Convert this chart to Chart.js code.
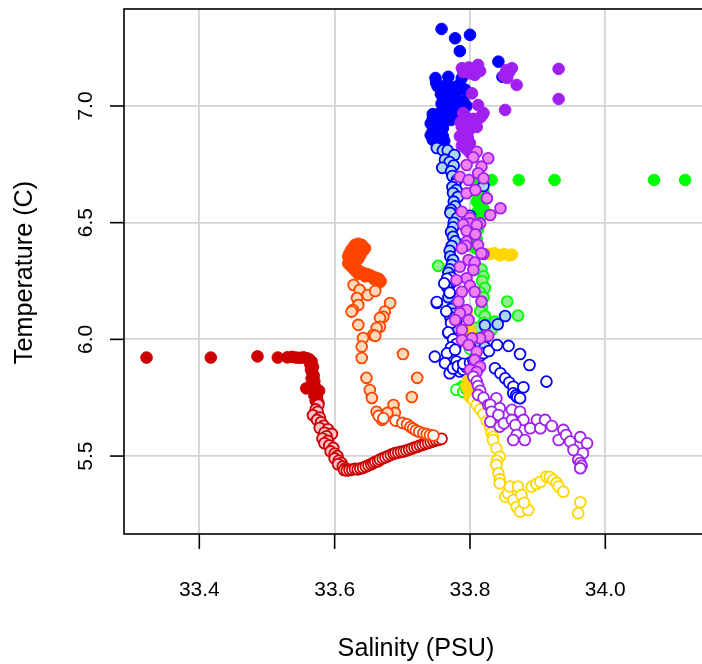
<!DOCTYPE html>
<html>
<head>
<meta charset="utf-8">
<script src="https://cdn.jsdelivr.net/npm/chart.js@4/dist/chart.umd.min.js"></script>
<style>
  html, body { margin: 0; padding: 0; background: #ffffff; overflow: hidden; }
  #wrap { width: 702px; height: 664px; position: relative; }
</style>
</head>
<body>
<div id="wrap"><canvas id="ts" width="702" height="664"></canvas></div>
<script>
// Temperature–salinity profiles, [salinity PSU, temperature C]
// Each cast: surface layer (filled), middle layer (pale fill), deep layer (open).

const xTicks = [33.4, 33.6, 33.8, 34.0];
const yTicks = [5.5, 6.0, 6.5, 7.0];
const xRange = [33.2887, 34.1429];
const yRange = [5.166, 7.4156];

const redSurface = [[33.322,5.922],[33.417,5.922],[33.486,5.927],[33.516,5.922],[33.53,5.923],[33.537,5.925],[33.543,5.922],[33.549,5.921],[33.554,5.923],[33.559,5.919],[33.563,5.914],[33.566,5.905],[33.564,5.893],[33.568,5.882],[33.565,5.87],[33.567,5.857],[33.569,5.845],[33.566,5.832],[33.57,5.82],[33.567,5.808],[33.571,5.796],[33.558,5.79],[33.568,5.784],[33.577,5.78],[33.572,5.772],[33.57,5.76],[33.574,5.748],[33.572,5.737],[33.576,5.728]];
const redMid = [[33.576,5.72],[33.572,5.70],[33.575,5.69],[33.568,5.675],[33.578,5.665],[33.574,5.655],[33.58,5.645],[33.584,5.63],[33.578,5.62],[33.59,5.615],[33.585,5.60],[33.596,5.595],[33.588,5.585],[33.582,5.575],[33.59,5.565],[33.585,5.555],[33.592,5.545],[33.598,5.535],[33.594,5.52],[33.6,5.51],[33.604,5.50],[33.6,5.49],[33.606,5.48],[33.61,5.47],[33.605,5.465],[33.612,5.455],[33.616,5.448],[33.62,5.44],[33.614,5.44]];
const redDeep = [[33.618,5.438],[33.622,5.44],[33.626,5.442],[33.63,5.445],[33.634,5.443],[33.638,5.447],[33.642,5.45],[33.646,5.455],[33.65,5.46],[33.654,5.465],[33.657,5.47],[33.66,5.475],[33.664,5.478],[33.667,5.485],[33.671,5.49],[33.675,5.495],[33.679,5.5],[33.683,5.505],[33.687,5.51],[33.69,5.513],[33.694,5.515],[33.698,5.518],[33.702,5.52],[33.706,5.524],[33.71,5.528],[33.714,5.532],[33.718,5.536],[33.722,5.54],[33.726,5.545],[33.73,5.548],[33.734,5.552],[33.738,5.556],[33.742,5.56],[33.746,5.564],[33.75,5.567],[33.754,5.57],[33.758,5.574]];

const orangeSurface = [[33.63,6.405],[33.635,6.41],[33.64,6.405],[33.628,6.395],[33.638,6.395],[33.645,6.39],[33.625,6.385],[33.632,6.38],[33.642,6.38],[33.622,6.37],[33.63,6.365],[33.638,6.36],[33.62,6.355],[33.627,6.35],[33.635,6.345],[33.622,6.34],[33.63,6.335],[33.62,6.325],[33.628,6.32],[33.625,6.31],[33.632,6.305],[33.63,6.295],[33.638,6.29],[33.635,6.28],[33.642,6.285],[33.648,6.28],[33.645,6.27],[33.652,6.275],[33.655,6.27],[33.66,6.265],[33.658,6.258],[33.665,6.26],[33.668,6.25],[33.662,6.255],[33.667,6.245]];
const orangeMid = [[33.628,6.233],[33.637,6.212],[33.649,6.19],[33.66,6.207],[33.633,6.177],[33.635,6.147],[33.627,6.126],[33.625,6.119],[33.682,6.156],[33.674,6.119],[33.672,6.097],[33.667,6.092],[33.667,6.054],[33.662,6.049],[33.657,6.019],[33.66,6.015],[33.635,6.062],[33.642,6.006],[33.64,5.969],[33.64,5.92],[33.647,5.835],[33.652,5.783],[33.655,5.749],[33.701,5.937],[33.722,5.835],[33.714,5.753],[33.687,5.719],[33.689,5.685],[33.678,5.685],[33.662,5.69],[33.67,5.655]];
const orangeDeep = [[33.665,5.672],[33.672,5.662],[33.69,5.652],[33.7,5.642],[33.707,5.636],[33.712,5.625],[33.716,5.618],[33.72,5.61],[33.725,5.604],[33.731,5.598],[33.736,5.594],[33.741,5.59],[33.746,5.588]];

const greenSurface = [[33.832,6.683],[33.872,6.683],[33.925,6.683],[34.072,6.683],[34.118,6.683],[33.81,6.67],[33.815,6.655],[33.808,6.64],[33.82,6.63],[33.812,6.62],[33.818,6.6],[33.81,6.59],[33.815,6.575],[33.82,6.56],[33.812,6.55],[33.808,6.535],[33.815,6.52],[33.81,6.505],[33.805,6.49],[33.812,6.47],[33.808,6.45],[33.81,6.43],[33.805,6.41],[33.808,6.39]];
const greenMid = [[33.753,6.315],[33.817,6.3],[33.82,6.27],[33.818,6.25],[33.822,6.22],[33.815,6.2],[33.78,6.18],[33.82,6.18],[33.855,6.162],[33.818,6.14],[33.815,6.12],[33.871,6.102],[33.822,6.1],[33.837,6.076],[33.82,6.07],[33.81,6.05],[33.832,6.04],[33.825,6.02],[33.815,6.0],[33.82,5.98]];
const greenDeep = [[33.8,5.96],[33.79,5.8],[33.785,5.79],[33.78,5.784],[33.79,5.775],[33.795,5.785]];

const blueSurface = [[33.758,7.33],[33.778,7.29],[33.8,7.305],[33.785,7.235],[33.842,7.19],[33.848,7.125],[33.749,7.12],[33.768,7.125],[33.788,7.12],[33.75,7.1],[33.752,7.085],[33.765,7.09],[33.775,7.08],[33.785,7.095],[33.793,7.07],[33.78,7.06],[33.77,7.05],[33.757,7.05],[33.762,7.03],[33.778,7.035],[33.79,7.02],[33.795,7.0],[33.783,7.005],[33.77,7.0],[33.758,7.01],[33.765,6.985],[33.775,6.98],[33.755,6.97],[33.745,6.965],[33.76,6.955],[33.77,6.96],[33.78,6.975],[33.745,6.945],[33.752,6.935],[33.762,6.93],[33.772,6.94],[33.742,6.925],[33.75,6.91],[33.76,6.905],[33.745,6.895],[33.755,6.885],[33.742,6.875],[33.75,6.865],[33.76,6.87],[33.745,6.855],[33.752,6.845],[33.762,6.85],[33.758,6.835]];
const blueMid = [[33.751,6.82],[33.76,6.81],[33.767,6.81],[33.777,6.79],[33.763,6.77],[33.77,6.76],[33.776,6.745],[33.759,6.735],[33.772,6.72],[33.774,6.70],[33.781,6.683],[33.778,6.665],[33.774,6.653],[33.82,6.657],[33.78,6.64],[33.775,6.627],[33.782,6.61],[33.776,6.59],[33.778,6.57],[33.772,6.555],[33.771,6.542],[33.781,6.52],[33.776,6.5],[33.775,6.48],[33.772,6.46],[33.775,6.44],[33.778,6.42],[33.773,6.40],[33.77,6.38],[33.771,6.355],[33.775,6.34],[33.773,6.32],[33.77,6.3],[33.768,6.285],[33.773,6.265],[33.773,6.245],[33.766,6.225],[33.77,6.2],[33.768,6.18],[33.751,6.156],[33.772,6.13],[33.775,6.11],[33.852,6.10],[33.771,6.095],[33.78,6.08],[33.841,6.065],[33.777,6.062],[33.822,6.06],[33.775,6.045],[33.768,6.027],[33.79,6.0],[33.8,6.01],[33.81,5.995],[33.815,5.985],[33.822,5.967]];
const blueDeep = [[33.8,6.53],[33.766,6.26],[33.762,6.24],[33.77,6.2],[33.751,6.16],[33.765,6.12],[33.772,6.07],[33.768,6.03],[33.775,6.0],[33.78,5.98],[33.772,5.965],[33.748,5.926],[33.766,5.94],[33.778,5.955],[33.78,5.905],[33.763,5.898],[33.77,5.855],[33.785,5.862],[33.775,5.875],[33.782,5.885],[33.79,5.87],[33.795,5.88],[33.79,5.895],[33.8,5.9],[33.805,5.91],[33.81,5.92],[33.815,5.93],[33.82,5.94],[33.828,5.95],[33.84,5.976],[33.857,5.972],[33.874,5.937],[33.888,5.89],[33.837,5.876],[33.845,5.855],[33.852,5.833],[33.858,5.815],[33.864,5.797],[33.879,5.795],[33.864,5.769],[33.868,5.76],[33.87,5.752],[33.874,5.748],[33.913,5.819]];

const goldSurface = [[33.828,6.365],[33.836,6.37],[33.844,6.36],[33.85,6.366],[33.858,6.36],[33.862,6.363],[33.795,6.11],[33.797,6.06],[33.8,6.035],[33.796,6.0],[33.797,5.825],[33.801,5.812],[33.795,5.8],[33.802,5.79],[33.798,5.78],[33.801,5.77],[33.804,5.76],[33.8,5.752]];
const goldDeep = [[33.805,5.74],[33.81,5.72],[33.815,5.7],[33.82,5.68],[33.825,5.65],[33.83,5.62],[33.832,5.6],[33.834,5.583],[33.834,5.569],[33.839,5.533],[33.844,5.497],[33.84,5.48],[33.839,5.462],[33.842,5.426],[33.844,5.4],[33.844,5.383],[33.852,5.326],[33.856,5.34],[33.859,5.369],[33.864,5.312],[33.869,5.283],[33.874,5.262],[33.871,5.369],[33.876,5.333],[33.886,5.269],[33.88,5.3],[33.891,5.369],[33.898,5.38],[33.904,5.39],[33.913,5.412],[33.918,5.41],[33.923,5.398],[33.928,5.385],[33.931,5.369],[33.938,5.347],[33.963,5.302],[33.96,5.255]];

const purpleSurface = [[33.788,7.162],[33.795,7.155],[33.798,7.165],[33.805,7.16],[33.812,7.176],[33.807,7.133],[33.8,7.14],[33.79,7.145],[33.815,7.15],[33.854,7.154],[33.862,7.162],[33.858,7.145],[33.85,7.13],[33.855,7.12],[33.869,7.09],[33.931,7.159],[33.931,7.03],[33.803,7.054],[33.812,7.004],[33.852,6.983],[33.818,6.96],[33.82,6.97],[33.79,6.97],[33.795,6.95],[33.805,6.945],[33.815,6.95],[33.786,6.93],[33.796,6.92],[33.808,6.93],[33.81,6.91],[33.788,6.91],[33.8,6.9],[33.792,6.885],[33.785,6.87],[33.797,6.865],[33.79,6.85],[33.8,6.84],[33.788,6.83],[33.795,6.815],[33.8,6.8]];
const purpleMid = [[33.81,6.804],[33.827,6.776],[33.805,6.78],[33.795,6.747],[33.817,6.74],[33.812,6.712],[33.785,6.697],[33.798,6.683],[33.82,6.69],[33.825,6.605],[33.795,6.626],[33.808,6.64],[33.845,6.562],[33.83,6.533],[33.788,6.547],[33.8,6.52],[33.8,6.497],[33.815,6.497],[33.79,6.492],[33.81,6.49],[33.795,6.465],[33.808,6.45],[33.795,6.419],[33.812,6.404],[33.794,6.401],[33.788,6.39],[33.82,6.366],[33.817,6.369],[33.798,6.34],[33.807,6.329],[33.785,6.311],[33.805,6.297],[33.795,6.262],[33.78,6.254],[33.8,6.23],[33.788,6.204],[33.807,6.204],[33.817,6.162],[33.783,6.162],[33.795,6.126],[33.785,6.112],[33.778,6.083],[33.798,6.083],[33.788,6.04],[33.823,6.016],[33.827,6.015],[33.815,6.005],[33.803,6.005],[33.788,5.997],[33.798,5.976],[33.81,5.947],[33.807,5.912],[33.815,5.883],[33.8,5.87],[33.81,5.86]];
const purpleDeep = [[33.805,5.84],[33.81,5.82],[33.812,5.8],[33.815,5.78],[33.812,5.762],[33.82,5.75],[33.827,5.719],[33.839,5.748],[33.83,5.72],[33.844,5.705],[33.832,5.69],[33.842,5.676],[33.83,5.647],[33.844,5.626],[33.85,5.64],[33.862,5.698],[33.874,5.69],[33.862,5.655],[33.879,5.655],[33.867,5.633],[33.869,5.59],[33.864,5.569],[33.881,5.569],[33.889,5.619],[33.899,5.655],[33.904,5.619],[33.911,5.655],[33.921,5.629],[33.938,5.612],[33.931,5.569],[33.942,5.59],[33.948,5.562],[33.953,5.526],[33.963,5.581],[33.973,5.555],[33.967,5.512],[33.96,5.483],[33.963,5.47],[33.965,5.458],[33.963,5.448]];

// Line colour and pale fill for each cast
const casts = [
  { line: '#CD0000', pale: '#FFC0CB', layers: [redSurface, redMid, redDeep] },
  { line: '#FF4500', pale: '#FFDAB9', layers: [orangeSurface, orangeMid, orangeDeep] },
  { line: '#00FF00', pale: '#90EE90', layers: [greenSurface, greenMid, greenDeep] },
  { line: '#0000FF', pale: '#ADD8E6', layers: [blueSurface, blueMid, blueDeep] },
  { line: '#FFD700', pale: '#FFF3A0', layers: [goldSurface, [], goldDeep] },
  { line: '#A020F0', pale: '#EE82EE', layers: [purpleSurface, purpleMid, purpleDeep] }
];

const drawOrder = [];
casts.forEach(c => {
  c.layers.forEach((pts, k) => {
    if (!pts.length) return;
    const fill = k === 0 ? c.line : (k === 1 ? c.pale : '#FFFFFF');
    drawOrder.push({
      data: pts.map(p => ({ x: p[0], y: p[1] })),
      backgroundColor: fill,
      borderColor: c.line,
      borderWidth: k === 0 ? 1 : 1.8,
      pointRadius: k === 0 ? 5.8 : 5.4,
      pointHoverRadius: k === 0 ? 5.8 : 5.4
    });
  });
});
// Chart.js paints the first dataset last, so reverse to keep the stacking order
const datasets = drawOrder.slice().reverse();

const FONT = '"Liberation Sans", Arial, Helvetica, sans-serif';

const frame = {
  id: 'frame',
  afterDraw(chart) {
    const ctx = chart.ctx;
    const { left, top, bottom } = chart.chartArea;
    const xs = chart.scales.x, ys = chart.scales.y;
    ctx.save();
    ctx.strokeStyle = '#000000';
    ctx.lineWidth = 1.6;
    ctx.strokeRect(left, top, 720 - left, bottom - top);

    ctx.fillStyle = '#000000';
    ctx.font = '21px ' + FONT;
    ctx.textAlign = 'center';
    ctx.textBaseline = 'alphabetic';
    xTicks.forEach(v => {
      const px = xs.getPixelForValue(v);
      ctx.beginPath();
      ctx.moveTo(px, bottom);
      ctx.lineTo(px, bottom + 15);
      ctx.stroke();
      ctx.fillText(v.toFixed(1), px, 596);
    });
    yTicks.forEach(v => {
      const py = ys.getPixelForValue(v);
      ctx.beginPath();
      ctx.moveTo(left, py);
      ctx.lineTo(left - 14, py);
      ctx.stroke();
      ctx.save();
      ctx.translate(92, py);
      ctx.rotate(-Math.PI / 2);
      ctx.fillText(v.toFixed(1), 0, 0);
      ctx.restore();
    });

    ctx.font = '25.2px ' + FONT;
    ctx.fillText('Salinity (PSU)', 416, 656);
    ctx.save();
    ctx.translate(32, (top + bottom) / 2 + 1);
    ctx.rotate(-Math.PI / 2);
    ctx.fillText('Temperature (C)', 0, 0);
    ctx.restore();
    ctx.restore();
  }
};

const gridStyle = { color: '#D3D3D3', lineWidth: 1.8, drawTicks: false };

new Chart(document.getElementById('ts'), {
  type: 'scatter',
  data: { datasets },
  options: {
    responsive: false,
    devicePixelRatio: 1,
    animation: false,
    events: [],
    layout: { autoPadding: false, padding: { left: 124, top: 9, right: 0, bottom: 130 } },
    plugins: { legend: { display: false }, tooltip: { enabled: false } },
    scales: {
      x: {
        type: 'linear', min: xRange[0], max: xRange[1],
        afterBuildTicks: s => { s.ticks = xTicks.map(v => ({ value: v })); },
        ticks: { display: false },
        grid: gridStyle,
        border: { display: false }
      },
      y: {
        type: 'linear', min: yRange[0], max: yRange[1],
        afterBuildTicks: s => { s.ticks = yTicks.map(v => ({ value: v })); },
        ticks: { display: false },
        grid: gridStyle,
        border: { display: false }
      }
    }
  },
  plugins: [frame]
});
</script>
</body>
</html>
